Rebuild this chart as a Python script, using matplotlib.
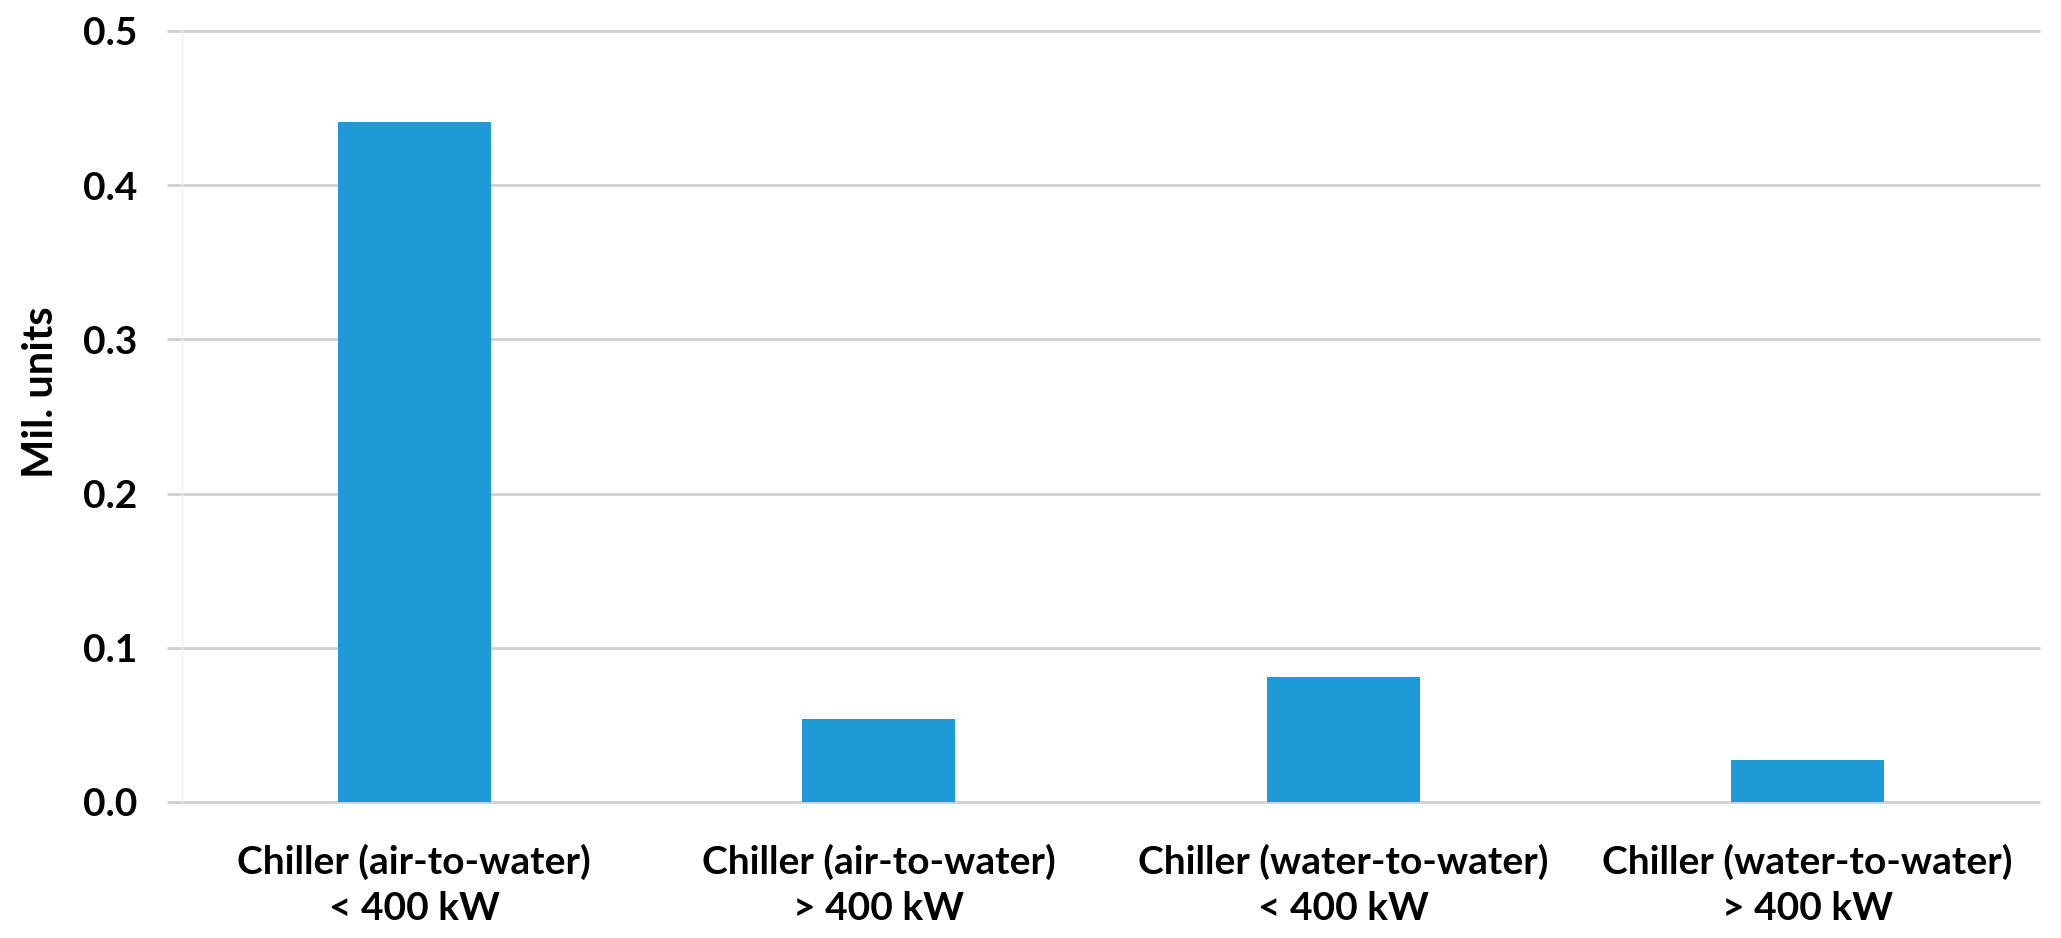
import matplotlib
matplotlib.use("Agg")
import matplotlib.pyplot as plt
from matplotlib.ticker import FormatStrFormatter

categories = [
    "Chiller (air-to-water)\n< 400 kW",
    "Chiller (air-to-water)\n> 400 kW",
    "Chiller (water-to-water)\n< 400 kW",
    "Chiller (water-to-water)\n> 400 kW",
]
units = [0.441, 0.054, 0.081, 0.027]
y_ticks = [0.0, 0.1, 0.2, 0.3, 0.4, 0.5]

plt.rcParams['font.family'] = ['Lato', 'DejaVu Sans']
plt.rcParams['font.weight'] = 'bold'

fig = plt.figure(figsize=(20.61, 9.38), dpi=100)
ax = fig.add_axes([0.0883, 0.145, 0.9015, 0.822])

ax.bar(range(len(categories)), units, width=0.33, color='#1E9BD7', zorder=3)

ax.set_xlim(-0.5, len(categories) - 0.5)
ax.set_ylim(0, 0.5)
ax.set_yticks(y_ticks)
ax.yaxis.set_major_formatter(FormatStrFormatter('%.1f'))
ax.set_xticks(range(len(categories)))
ax.set_xticklabels(categories, fontsize=28, fontweight='bold', linespacing=1.4)
ax.tick_params(axis='y', labelsize=28, length=0, pad=32)
ax.tick_params(axis='x', length=0, pad=30)

# gridlines reach a bit left of the plot area, like in Excel
ax.hlines(y_ticks, -0.008, 1, transform=ax.get_yaxis_transform(),
          color='#D0D0D0', linewidth=2, zorder=0, clip_on=False)
for side in ['top', 'right', 'bottom']:
    ax.spines[side].set_visible(False)
ax.spines['left'].set_color('#F2F2F2')
ax.spines['left'].set_linewidth(1)

ax.set_ylabel('Mil. units', fontsize=30, fontweight='bold')
ax.yaxis.set_label_coords(-0.0657, 0.532)

plt.savefig('out.png', dpi=100)
plt.close()
